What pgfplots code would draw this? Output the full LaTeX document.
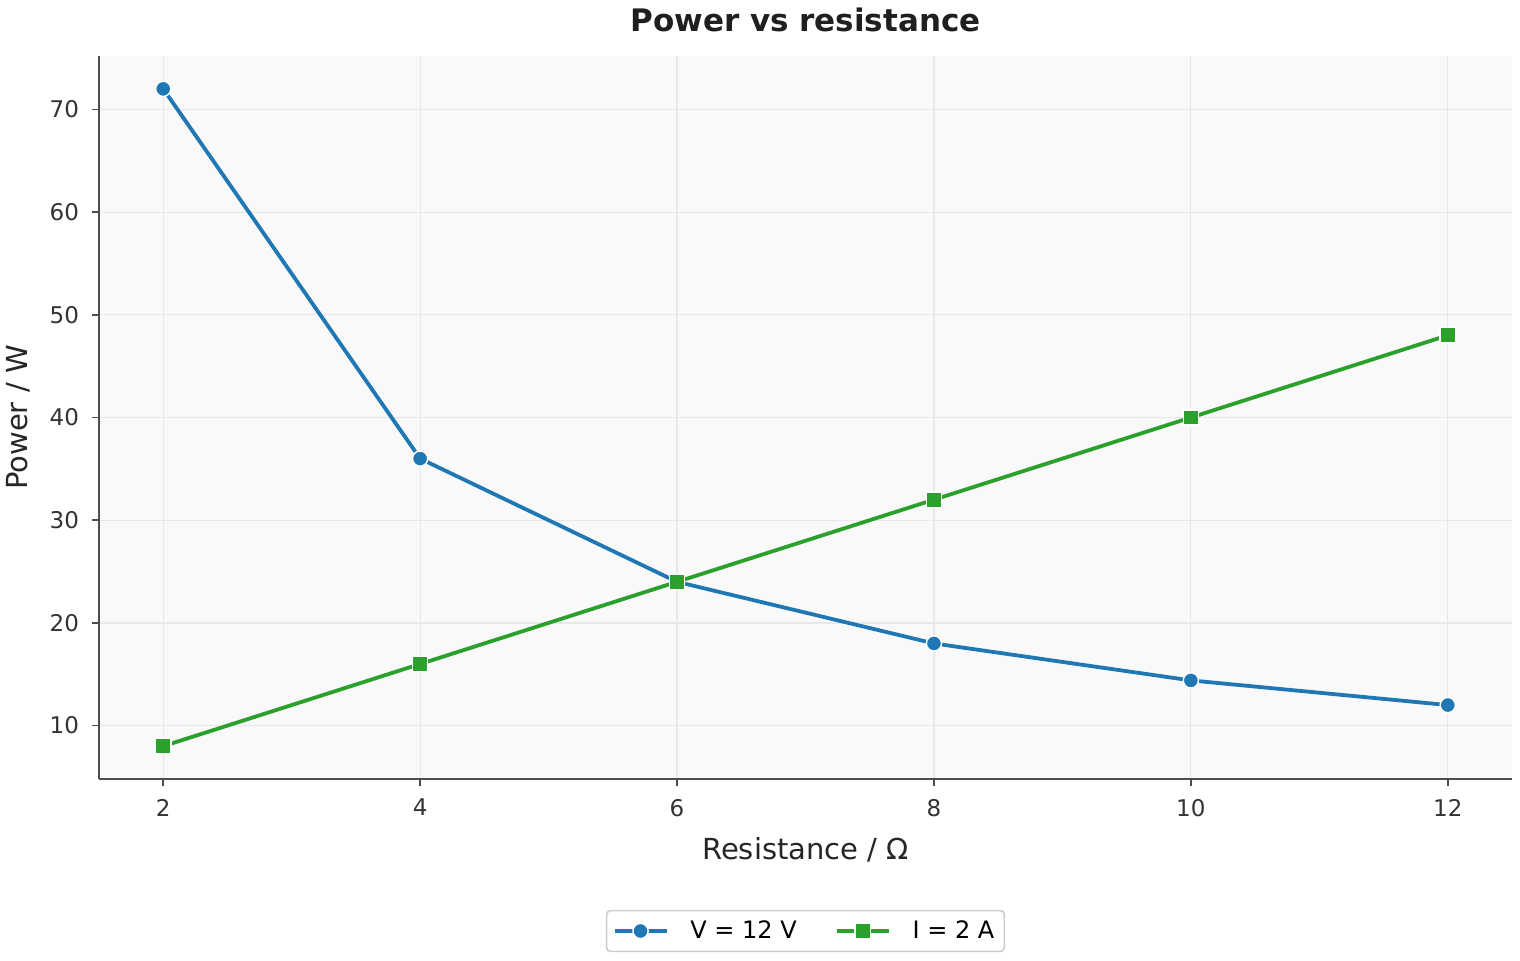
\documentclass[border=0pt]{standalone}
\usepackage{fontspec}
\setmainfont{DejaVu Sans}
\usepackage{pgfplots}
\pgfplotsset{compat=1.18}

\definecolor{cblue}{HTML}{1F77B4}
\definecolor{cgreen}{HTML}{2CA02C}
\definecolor{axbg}{HTML}{F9F9FA}
\definecolor{gridc}{HTML}{E6E8EC}
\definecolor{spine}{HTML}{4D4D4D}
\definecolor{txt}{HTML}{333333}

\begin{document}
\begin{tikzpicture}
\path[use as bounding box] (0,0) rectangle (760pt,480pt);
\begin{axis}[
  at={(49.5pt,90.5pt)}, anchor=south west,
  scale only axis, width=706.5pt, height=361.5pt,
  xmin=1.5, xmax=12.5, ymin=4.8, ymax=75.2,
  xtick={2,4,...,12}, ytick={10,20,...,70},
  axis lines*=left,
  axis line style={spine, line width=0.8pt},
  axis background/.style={fill=axbg},
  grid=major,
  major grid style={gridc, line width=0.6pt},
  tick align=outside, major tick length=3.5pt,
  tick style={spine, line width=0.8pt},
  every tick label/.append style={font=\fontsize{11.5}{13}\selectfont, text=txt},
  xticklabel style={yshift=-3pt},
  yticklabel style={xshift=-3pt},
  /pgf/number format/assume math mode=true,
  xlabel={Resistance / Ω}, ylabel={Power / W},
  every axis x label/.style={at={(axis description cs:0.5,0)}, anchor=center, yshift=-35.5pt,
    font=\fontsize{14.5}{16}\selectfont, text=black!85},
  every axis y label/.style={at={(axis description cs:0,0.5)}, rotate=90, anchor=center, yshift=40.5pt,
    font=\fontsize{14.5}{16}\selectfont, text=black!85},
  title={\bfseries Power vs resistance},
  every axis title/.style={at={(axis description cs:0.5,1)}, anchor=center, yshift=18pt,
    font=\fontsize{15.5}{18}\selectfont, text=black!88},
  legend columns=2,
  legend style={at={(axis description cs:0.5,0)}, anchor=center, yshift=-76pt,
    draw=black!20, rounded corners=2pt, line width=0.8pt,
    font=\fontsize{12}{14}\selectfont,
    /tikz/every odd column/.append style={column sep=9pt},
    /tikz/every even column/.append style={column sep=17pt},
    inner xsep=3pt, inner ysep=3pt},
  legend cell align=left,
  legend image code/.code={%
    \draw[mark repeat=2, mark phase=2] plot coordinates {(0pt,0pt) (13pt,0pt) (26pt,0pt)};},
]
\addplot[cblue, line width=1.9pt, mark=*, mark size=3.8pt,
  mark options={fill=cblue, draw=white, line width=0.7pt}]
  coordinates {(2,72) (4,36) (6,24) (8,18) (10,14.4) (12,12)};
\addlegendentry{V = 12 V}
\addplot[cgreen, line width=1.9pt, mark=square*, mark size=3.8pt,
  mark options={fill=cgreen, draw=white, line width=0.7pt}]
  coordinates {(2,8) (4,16) (6,24) (8,32) (10,40) (12,48)};
\addlegendentry{I = 2 A}
\end{axis}
\end{tikzpicture}
\end{document}
